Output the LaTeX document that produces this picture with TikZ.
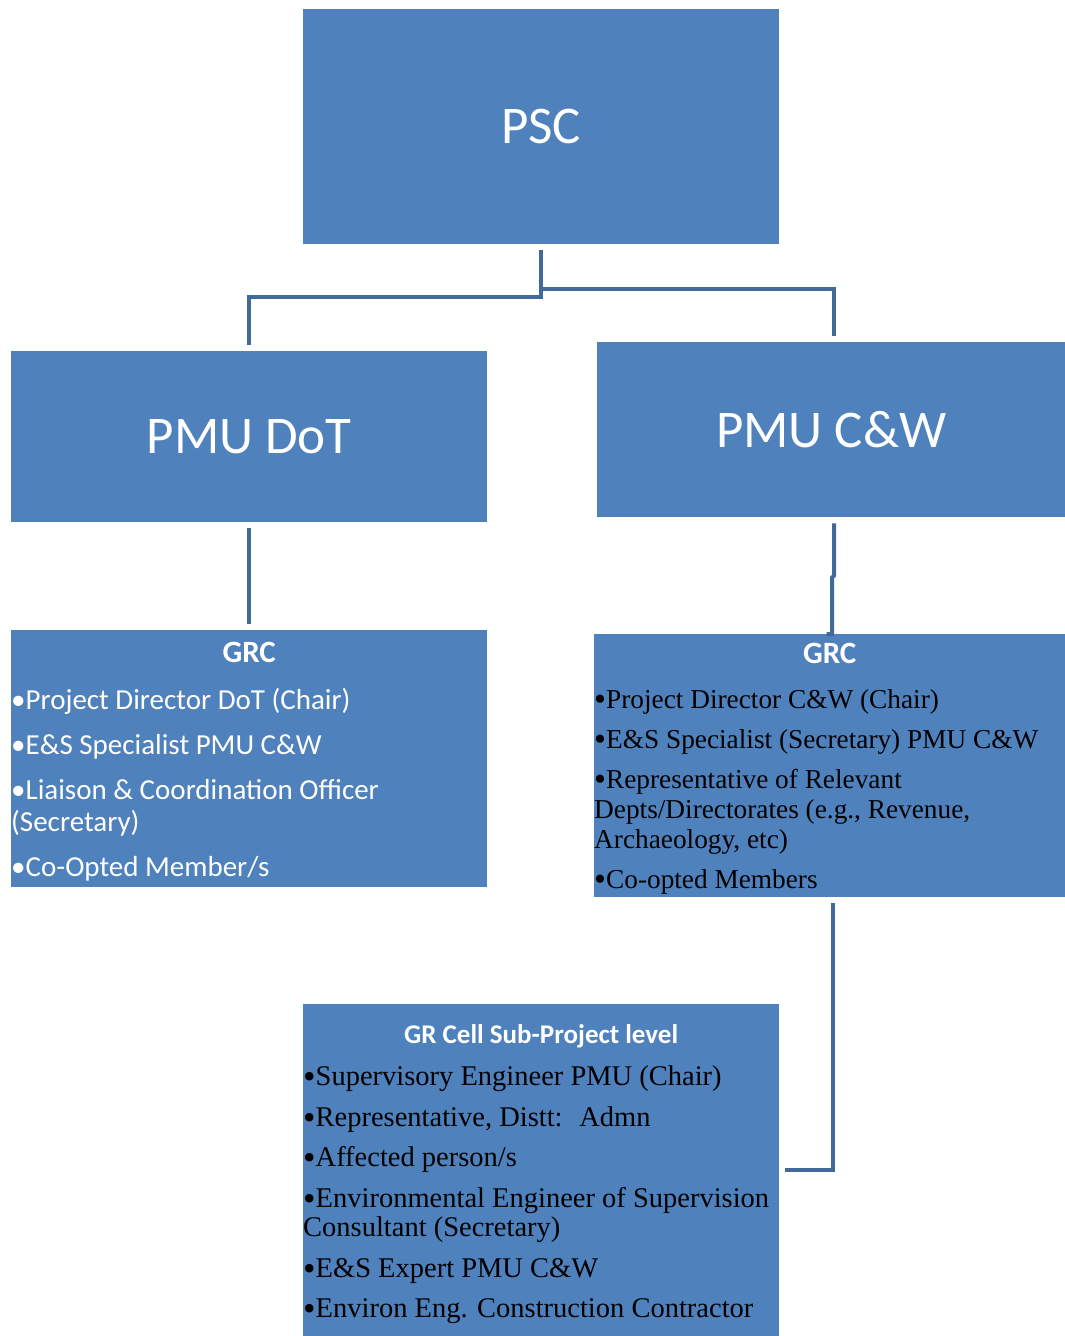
\documentclass[tikz,border=0pt]{standalone}
\usepackage{fontspec}
\setmainfont{Liberation Serif}
\newfontfamily\calib{Carlito}
\usetikzlibrary{positioning}
\definecolor{boxblue}{HTML}{4F81BD}
\definecolor{linkblue}{HTML}{41699B}
\newcommand\bul{\raisebox{-0.09em}{\scalebox{1.25}{•}}}

\begin{document}
\begin{tikzpicture}[x=1pt,y=-1pt,inner sep=0pt]
    \tikzset{box/.style={rectangle,fill=boxblue,anchor=north west},
      big/.style={text=white,font=\calib\fontsize{53}{60}\selectfont},
      head/.style={text=white,font=\calib\bfseries\fontsize{31}{34}\selectfont},
      sanslist/.style={text=white,align=left,anchor=north west,font=\calib\fontsize{29}{32}\selectfont},
      seriflist/.style={text=black,align=left,anchor=north west,font=\fontsize{27.3}{30}\selectfont},
      link/.style={draw=linkblue,line width=4pt,shorten <=6pt,shorten >=6pt}}
    \useasboundingbox (0,0) rectangle (1065,1336);
    % top level
    \node[box,big,minimum width=476,minimum height=235] (psc) at (303,9) {PSC};
    \node[box,big,minimum width=476,minimum height=171] (dot) at (11,351) {PMU DoT};
    \node[box,big,minimum width=468,minimum height=175] (cw) at (597,342) {PMU C\&W};
    % committees
    \node[box,minimum width=476,minimum height=257] (grcL) at (11,630) {};
    \node[head] (grcLhead) at ([yshift=-22pt]grcL.north) {GRC};
    \node[sanslist] (grcLlist) at ([yshift=-58pt]grcL.north west)
      {•Project Director DoT (Chair)\\[13pt]•E\&S Specialist PMU C\&W\\[13pt]%
       •Liaison \& Coordination Officer\\(Secretary)\\[13pt]•Co-Opted Member/s};
    \node[box,minimum width=471,minimum height=263] (grcR) at (594,634) {};
    \node[head] (grcRhead) at ([yshift=-19pt]grcR.north) {GRC};
    \node[seriflist] (grcRlist) at ([yshift=-55pt]grcR.north west)
      {\bul Project Director C\&W (Chair)\\[10pt]\bul E\&S Specialist (Secretary) PMU C\&W\\[10pt]%
       \bul Representative of Relevant\\Depts/Directorates (e.g., Revenue,\\Archaeology, etc)\\[10pt]%
       \bul Co-opted Members};
    \node[box,minimum width=476,minimum height=332] (cell) at (303,1004) {};
    \node[head,font=\calib\bfseries\fontsize{27}{30}\selectfont] (cellhead) at ([yshift=-32pt]cell.north) {GR Cell Sub-Project level};
    \node[seriflist,font=\fontsize{28.5}{29.5}\selectfont] (celllist) at ([yshift=-62pt]cell.north west)
      {\bul Supervisory Engineer PMU (Chair)\\[11pt]\bul Representative, Distt:~ Admn\\[11pt]%
       \bul Affected person/s\\[11pt]\bul Environmental Engineer of Supervision\\Consultant (Secretary)\\[11pt]%
       \bul E\&S Expert PMU C\&W\\[11pt]\bul Environ Eng. Construction Contractor};
    % connectors
    \draw[link] (psc.south) -- ++(0,53) -| (dot.north);
    \draw[link,shorten <=0pt] ([yshift=-45pt]psc.south) -| ([xshift=3pt]cw.north);
    \draw[link] (dot.south) -- (grcL.north);
    \draw[link] ([xshift=3pt]cw.south) -- ++(0,58) -- ++(-2,2) |- ([xshift=3pt]grcR.north);
    \draw[link] ([xshift=3pt]grcR.south) |- (cell.east);
\end{tikzpicture}
\end{document}
